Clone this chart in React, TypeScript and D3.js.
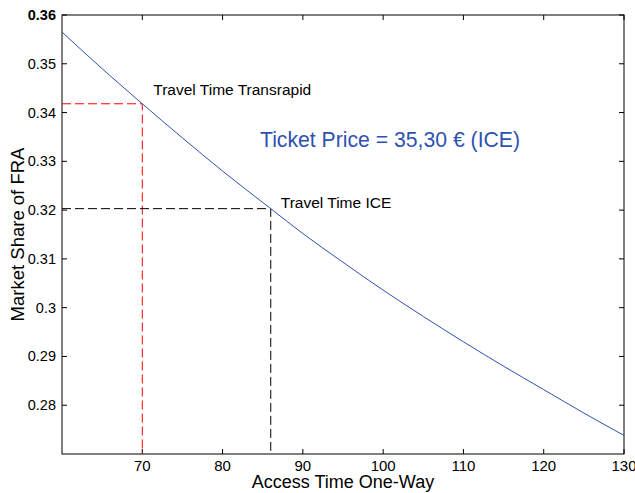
import * as d3 from 'd3';
import React from 'react';

// values
const accessTime = [60, 65, 70, 75, 80, 86, 90, 95, 100, 105, 110, 115, 120, 125, 130];
const marketShare = [0.3565, 0.3490, 0.3418, 0.3348, 0.3280, 0.3203, 0.3152, 0.3093, 0.3036, 0.2982, 0.2930, 0.2880, 0.2832, 0.2784, 0.2738];

const xTicks = [70, 80, 90, 100, 110, 120, 130];
const yTicks = [0.28, 0.29, 0.3, 0.31, 0.32, 0.33, 0.34, 0.35, 0.36];

const transrapid = { x: 70, y: 0.3418, label: 'Travel Time Transrapid' };
const ice = { x: 86, y: 0.3203, label: 'Travel Time ICE' };

const width = 635;
const height = 493;
const margin = { top: 15, right: 11, bottom: 39, left: 62 };

export default function App() {
  const x = d3.scaleLinear().domain([60, 130]).range([margin.left, width - margin.right]);
  const y = d3.scaleLinear().domain([0.27, 0.36]).range([height - margin.bottom, margin.top]);

  const line = d3.line<number>()
    .x((_, i) => x(accessTime[i]))
    .y(d => y(d))
    .curve(d3.curveMonotoneX);

  const x0 = x(60), x1 = x(130), y0 = y(0.27), y1 = y(0.36);
  const tick = 5;
  const font = 'Arial, "Liberation Sans", sans-serif';

  return (
    <div style={{ position: 'fixed', left: 0, top: 0 }}>
      <svg width={width} height={height} style={{ display: 'block', background: '#fff' }} fontFamily={font}>
        {/* frame */}
        <rect x={x0} y={y1} width={x1 - x0} height={y0 - y1} fill="none" stroke="#000" strokeWidth={1} />

        {/* x ticks */}
        {xTicks.map(t => (
          <g key={'x' + t}>
            <line x1={x(t)} x2={x(t)} y1={y0} y2={y0 - tick} stroke="#000" />
            <line x1={x(t)} x2={x(t)} y1={y1} y2={y1 + tick} stroke="#000" />
            <text x={x(t)} y={y0 + 17} textAnchor="middle" fontSize={15} fill="#000">{t}</text>
          </g>
        ))}

        {/* y ticks */}
        {yTicks.map(t => (
          <g key={'y' + t}>
            <line x1={x0} x2={x0 + tick} y1={y(t)} y2={y(t)} stroke="#000" />
            <line x1={x1} x2={x1 - tick} y1={y(t)} y2={y(t)} stroke="#000" />
            <text x={x0 - 6} y={y(t) + 5} textAnchor="end" fontSize={14.5} fill="#000"
              fontWeight={t === 0.36 ? 'bold' : 'normal'}>{d3.format('~g')(t)}</text>
          </g>
        ))}

        {/* reference lines */}
        <path d={`M${x0},${y(transrapid.y)}H${x(transrapid.x)}V${y0}`} fill="none" stroke="#ff0000" strokeDasharray="9,4" />
        <path d={`M${x0},${y(ice.y)}H${x(ice.x)}V${y0}`} fill="none" stroke="#000" strokeDasharray="9,4" />

        {/* curve */}
        <path d={line(marketShare) || ''} fill="none" stroke="#2f52b0" strokeWidth={1} />

        <text x={x(transrapid.x) + 11} y={y(transrapid.y) - 9} fontSize={15.5} fill="#000">{transrapid.label}</text>
        <text x={x(ice.x) + 10} y={y(ice.y) - 1} fontSize={15.5} fill="#000">{ice.label}</text>
        <text x={260} y={147} fontSize={21.2} fill="#2f52b0">Ticket Price = 35,30 € (ICE)</text>

        <text x={(x0 + x1) / 2} y={488} textAnchor="middle" fontSize={18} fill="#000">Access Time One-Way</text>
        <text transform={`translate(24,${(y0 + y1) / 2}) rotate(-90)`} textAnchor="middle" fontSize={18.5} fill="#000">Market Share of FRA</text>
      </svg>
    </div>
  );
}
